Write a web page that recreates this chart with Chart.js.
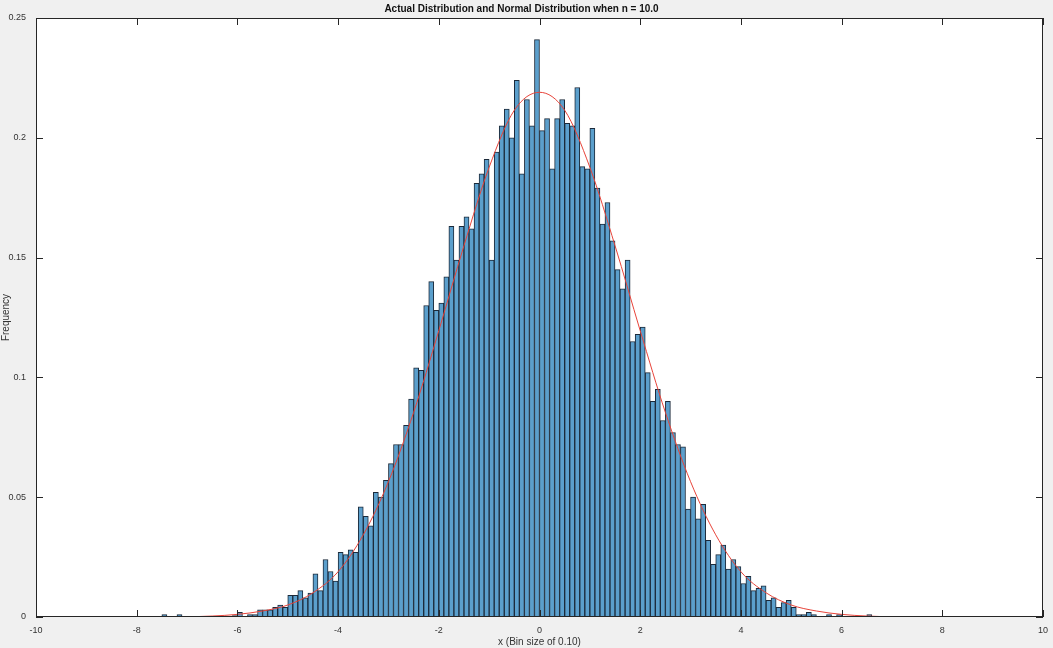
<!DOCTYPE html>
<html><head><meta charset="utf-8">
<script src="https://cdn.jsdelivr.net/npm/chart.js@4"></script>
<style>html,body{margin:0;padding:0;background:#f0f0f0;}#c{display:block}</style>
</head><body>
<canvas id="c" width="1053" height="648"></canvas>
<script>
const firstBin = -7.5; // left edge of first bin
const binSize = 0.1;
const freq = [
 0.001,0,0,0.001,0,0,0,0,0,0,0,0,0,0,
 0.0006,0.002,0,0.001,0.001,0.003,0.003,0.003,0.004,0.005,
 0.004,0.009,0.009,0.011,0.008,0.010,0.018,0.011,0.024,0.019,
 0.015,0.027,0.026,0.028,0.027,0.046,0.042,0.038,0.052,0.050,
 0.057,0.064,0.072,0.072,0.080,0.091,0.104,0.103,0.130,0.140,
 0.128,0.131,0.142,0.163,0.149,0.163,0.167,0.162,0.181,0.185,
 0.191,0.149,0.194,0.205,0.212,0.200,0.224,0.185,0.216,0.205,
 0.241,0.203,0.208,0.187,0.208,0.216,0.206,0.205,0.221,0.188,
 0.187,0.204,0.179,0.164,0.173,0.157,0.145,0.137,0.149,0.115,
 0.118,0.121,0.102,0.090,0.095,0.082,0.090,0.077,0.072,0.071,
 0.045,0.050,0.041,0.047,0.032,0.022,0.026,0.030,0.020,0.024,
 0.021,0.014,0.017,0.011,0.012,0.013,0.007,0.008,0.004,0.006,
 0.007,0.004,0.001,0.001,0.002,0.001,0,0,0.001,0,
 0.001,0,0,0,0,0,0.001
];
const curveX = [-8,-7.5,-7,-6.5,-6,-5.5,-5,-4.5,-4,-3.5,-3,-2.5,-2,-1.5,-1,-0.5,0,0.5,1,1.5,2,2.5,3,3.5,4,4.5,5,5.5,6,6.5,7,7.5,8];
const curveY = [0.00001,0.00004,0.0001,0.0004,0.0011,0.0025,0.005,0.0101,0.0189,0.0343,0.0565,0.0854,0.1195,0.155,0.1877,0.2115,0.219,0.2115,0.1877,0.155,0.1195,0.0854,0.0565,0.0343,0.0189,0.0101,0.005,0.0025,0.0011,0.0004,0.0001,0.00004,0.00001];
const xTicks = [-10,-8,-6,-4,-2,0,2,4,6,8,10];
const yTicks = [0,0.05,0.1,0.15,0.2,0.25];

const bars = freq.map((v,i)=>({x: Math.round((firstBin + binSize*i + binSize/2)*100)/100, y: v}));
const curve = curveX.map((x,i)=>({x, y: curveY[i]}));

const boxTicks = {
  id:'boxTicks',
  beforeDraw(ch){
    const {ctx, chartArea:a} = ch;
    ctx.save(); ctx.fillStyle='#fff'; ctx.fillRect(a.left,a.top,a.right-a.left,a.bottom-a.top); ctx.restore();
  },
  afterDraw(ch){
    const {ctx, chartArea:a, scales:{x,y}} = ch;
    ctx.save(); ctx.strokeStyle='#262626'; ctx.lineWidth=1;
    ctx.strokeRect(a.left+0.5,a.top+0.5,a.right-a.left-1,a.bottom-a.top-1);
    ctx.beginPath();
    xTicks.forEach(t=>{const p=Math.round(x.getPixelForValue(t))+0.5; ctx.moveTo(p,a.bottom); ctx.lineTo(p,a.bottom-7); ctx.moveTo(p,a.top); ctx.lineTo(p,a.top+7);});
    yTicks.forEach(t=>{const p=Math.round(y.getPixelForValue(t))+0.5; ctx.moveTo(a.left,p); ctx.lineTo(a.left+7,p); ctx.moveTo(a.right,p); ctx.lineTo(a.right-7,p);});
    ctx.stroke(); ctx.restore();
  }
};

new Chart(document.getElementById('c'), {
  type:'bar',
  data:{datasets:[
    {type:'line', data: curve, borderColor:'#e8443a', borderWidth:1, pointRadius:0, cubicInterpolationMode:'monotone', order:0},
    {type:'bar', data: bars, backgroundColor:'#5b9fcc', borderColor:'#1c2a3a', borderWidth:1, barPercentage:1, categoryPercentage:1, order:1}
  ]},
  options:{
    responsive:false, animation:false, devicePixelRatio:1,
    layout:{padding:{left:0,right:10,top:0,bottom:0}},
    plugins:{legend:{display:false}, tooltip:{enabled:false},
      title:{display:true, text:'Actual Distribution and Normal Distribution when n = 10.0', color:'#111', font:{family:'Liberation Sans', size:10, weight:'bold'}, padding:{top:3,bottom:3}}},
    scales:{
      x:{type:'linear', min:-10, max:10, offset:false, afterBuildTicks(s){s.ticks=xTicks.map(v=>({value:v}));},
        afterFit(s){s.height=31;},
        grid:{display:false, offset:false}, border:{display:false},
        ticks:{color:'#333', font:{family:'Liberation Sans', size:9}, padding:0, maxRotation:0, callback:v=>String(v)},
        title:{display:true, text:'x (Bin size of 0.10)', color:'#333', font:{family:'Liberation Sans', size:10}, padding:{top:0,bottom:0}}},
      y:{min:0, max:0.25, afterBuildTicks(s){s.ticks=yTicks.map(v=>({value:v}));},
        afterFit(s){s.width=36;},
        grid:{display:false}, border:{display:false},
        ticks:{color:'#333', font:{family:'Liberation Sans', size:9}, padding:2, callback:v=>String(v)},
        title:{display:true, text:'Frequency', color:'#333', font:{family:'Liberation Sans', size:10}, padding:{top:0,bottom:2}}}
    }
  },
  plugins:[boxTicks]
});
</script>
</body></html>
